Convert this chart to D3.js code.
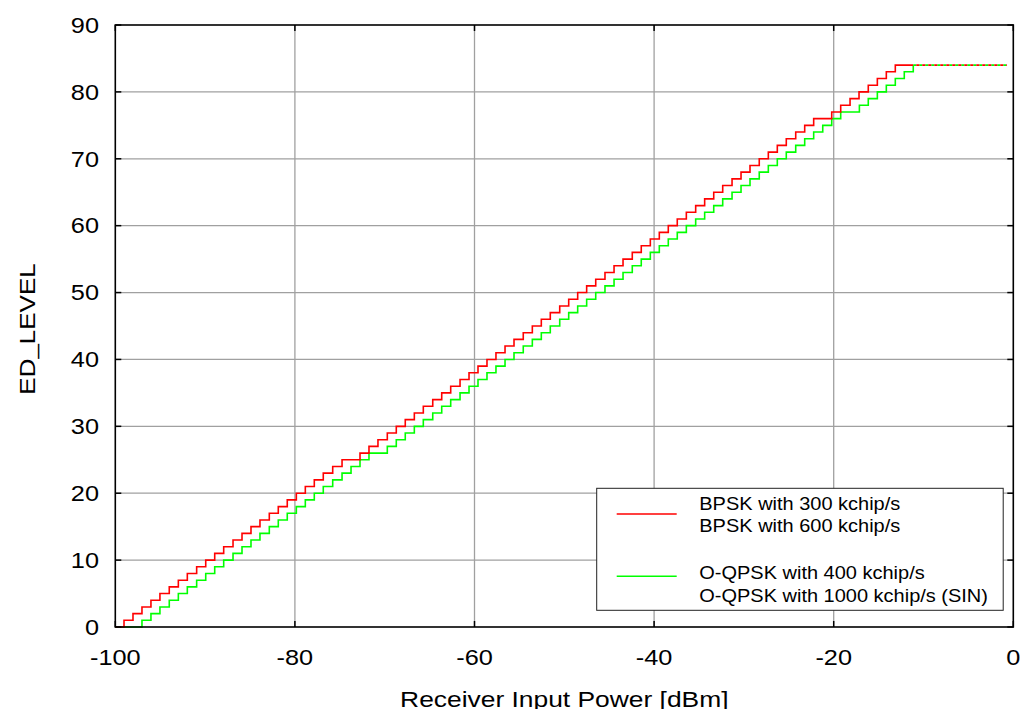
<!DOCTYPE html>
<meta charset="utf-8">
<style>
  body { margin: 0; background: #fff; }
  text { font-family: "Liberation Sans", Arial, sans-serif; fill: #000; }
  .grid line { stroke: #a0a0a0; stroke-width: 1.3px; }
</style>
<body>
<svg width="1035" height="709"></svg>
<script src="https://d3js.org/d3.v7.min.js"></script>
<script>

// x positions (dBm) where each ED_LEVEL step 1..84 begins
var redSteps = [-99.03,-98.03,-97.03,-96.03,-95.03,-93.99,-92.98,-91.98,-90.94,-89.93,
  -88.93,-87.93,-86.89,-85.89,-84.89,-83.89,-82.85,-81.85,-80.85,-79.84,
  -78.84,-77.84,-76.84,-75.79,-74.75,-72.75,-71.75,-70.75,-69.71,-68.71,
  -67.71,-66.70,-65.70,-64.65,-63.65,-62.65,-61.61,-60.61,-59.61,-58.61,
  -57.61,-56.60,-55.60,-54.57,-53.56,-52.56,-51.56,-50.51,-49.51,-48.51,
  -47.51,-46.50,-45.47,-44.46,-43.46,-42.43,-41.43,-40.42,-39.42,-38.42,
  -37.42,-36.41,-35.37,-34.37,-33.36,-32.36,-31.32,-30.32,-29.32,-28.29,
  -27.28,-26.28,-25.28,-24.23,-23.23,-22.23,-20.22,-19.22,-18.18,-17.18,
  -16.15,-15.14,-14.14,-13.14];

var greenSteps = [-97.03,-96.03,-95.03,-93.99,-92.98,-91.98,-90.94,-89.93,-88.93,-87.93,
  -86.89,-85.89,-84.89,-83.89,-82.85,-81.85,-80.85,-79.84,-78.84,-77.84,
  -76.84,-75.79,-74.75,-73.75,-72.75,-71.75,-69.71,-68.71,-67.71,-66.70,
  -65.70,-64.65,-63.65,-62.65,-61.61,-60.61,-59.61,-58.61,-57.61,-56.60,
  -55.60,-54.57,-53.56,-52.56,-51.56,-50.51,-49.51,-48.51,-47.51,-46.50,
  -45.47,-44.46,-43.46,-42.43,-41.43,-40.42,-39.42,-38.42,-37.42,-36.41,
  -35.37,-34.37,-33.36,-32.36,-31.32,-30.32,-29.32,-28.29,-27.28,-26.28,
  -25.28,-24.23,-23.23,-22.23,-21.22,-20.22,-19.22,-17.14,-16.15,-15.14,
  -14.14,-13.14,-12.14,-11.14];

var satStart = -11.14;   // both curves saturate at ED 84 from here (dotted)
var satEnd = -0.7;
var satLevel = 84;

var xTicks = [-100, -80, -60, -40, -20, 0];
var yTicks = [0, 10, 20, 30, 40, 50, 60, 70, 80, 90];

var legendLabels = [
  ["BPSK with 300 kchip/s", "BPSK with 600 kchip/s"],
  ["O-QPSK with 400 kchip/s", "O-QPSK with 1000 kchip/s (SIN)"]
];
var seriesColors = ["#ff0000", "#00ff00"];

var svg = d3.select("svg");
var pLeft = 115.3, pRight = 1013.3, pTop = 25, pBottom = 627;

var x = d3.scaleLinear().domain([-100, 0]).range([pLeft, pRight]);
var y = d3.scaleLinear().domain([0, 90]).range([pBottom, pTop]);

// little helper for the slightly wide text of the original
function stretched(sel, tx, ty, sx, rot) {
  return sel.attr("transform", "translate(" + tx + "," + ty + ")" + (rot ? " rotate(" + rot + ")" : "") + " scale(" + sx + ",1)");
}

// grid
var grid = svg.append("g").attr("class", "grid");
grid.selectAll(".gx").data(xTicks.slice(1, -1)).enter().append("line")
  .attr("x1", d => x(d)).attr("x2", d => x(d)).attr("y1", pTop).attr("y2", pBottom);
grid.selectAll(".gy").data(yTicks.slice(1, -1)).enter().append("line")
  .attr("x1", pLeft).attr("x2", pRight).attr("y1", d => y(d)).attr("y2", d => y(d));

// step curves
function stepPoints(steps) {
  var pts = [[-100, 0]];
  steps.forEach((s, i) => pts.push([s, i + 1]));
  pts.push([satStart, satLevel]);
  return pts;
}
var line = d3.line().x(d => x(d[0])).y(d => y(d[1])).curve(d3.curveStepAfter);

[greenSteps, redSteps].forEach((steps, i) => {
  svg.append("path")
    .attr("d", line(stepPoints(steps)))
    .attr("fill", "none")
    .attr("stroke", seriesColors[1 - i])
    .attr("stroke-width", 1.6);
});

// saturated part: alternating red / green dashes
svg.append("line")
  .attr("x1", x(satStart)).attr("x2", x(satEnd)).attr("y1", y(satLevel)).attr("y2", y(satLevel))
  .attr("stroke", seriesColors[1]).attr("stroke-width", 1.6)
  .attr("stroke-dasharray", "3,3");
svg.append("line")
  .attr("x1", x(satStart)).attr("x2", x(satEnd)).attr("y1", y(satLevel)).attr("y2", y(satLevel))
  .attr("stroke", seriesColors[0]).attr("stroke-width", 1.6)
  .attr("stroke-dasharray", "3,3").attr("stroke-dashoffset", 3);

// frame + inward ticks
svg.append("rect")
  .attr("x", pLeft).attr("y", pTop).attr("width", pRight - pLeft).attr("height", pBottom - pTop)
  .attr("fill", "none").attr("stroke", "#000").attr("stroke-width", 1.6);

var tk = svg.append("g").attr("stroke", "#000").attr("stroke-width", 1.5);
xTicks.forEach(d => {
  tk.append("line").attr("x1", x(d)).attr("x2", x(d)).attr("y1", pBottom).attr("y2", pBottom - 6);
  tk.append("line").attr("x1", x(d)).attr("x2", x(d)).attr("y1", pTop).attr("y2", pTop + 6);
});
yTicks.forEach(d => {
  tk.append("line").attr("x1", pLeft).attr("x2", pLeft + 6).attr("y1", y(d)).attr("y2", y(d));
  tk.append("line").attr("x1", pRight).attr("x2", pRight - 6).attr("y1", y(d)).attr("y2", y(d));
});

// tick labels
yTicks.forEach(d => {
  stretched(svg.append("text"), 99, y(d) + 7.8, 1.15)
    .attr("text-anchor", "end").style("font-size", "22px").text(d);
});
xTicks.forEach(d => {
  stretched(svg.append("text"), x(d), 664.5, 1.15)
    .attr("text-anchor", "middle").style("font-size", "22px").text(d);
});

// axis titles
stretched(svg.append("text"), (pLeft + pRight) / 2, 706.5, 1.2)
  .attr("text-anchor", "middle").style("font-size", "22px").text("Receiver Input Power [dBm]");
stretched(svg.append("text"), 35, 329, 1.18, -90)
  .attr("text-anchor", "middle").style("font-size", "22px").text("ED_LEVEL");

// legend
var lg = svg.append("g");
lg.append("rect").attr("x", 596.7).attr("y", 488.3).attr("width", 406.5).attr("height", 122)
  .attr("fill", "#fff").attr("stroke", "#222").attr("stroke-width", 1);
legendLabels.forEach((pair, i) => {
  var ly = 514 + i * 62.3;
  lg.append("line").attr("x1", 616.7).attr("x2", 676.7).attr("y1", ly).attr("y2", ly)
    .attr("stroke", seriesColors[i]).attr("stroke-width", 1.6);
  pair.forEach((t, j) => {
    stretched(lg.append("text"), 699.3, 510 + i * 69.3 + j * 22.2, 1.08)
      .style("font-size", "18.5px").text(t);
  });
});

</script>
</body>
